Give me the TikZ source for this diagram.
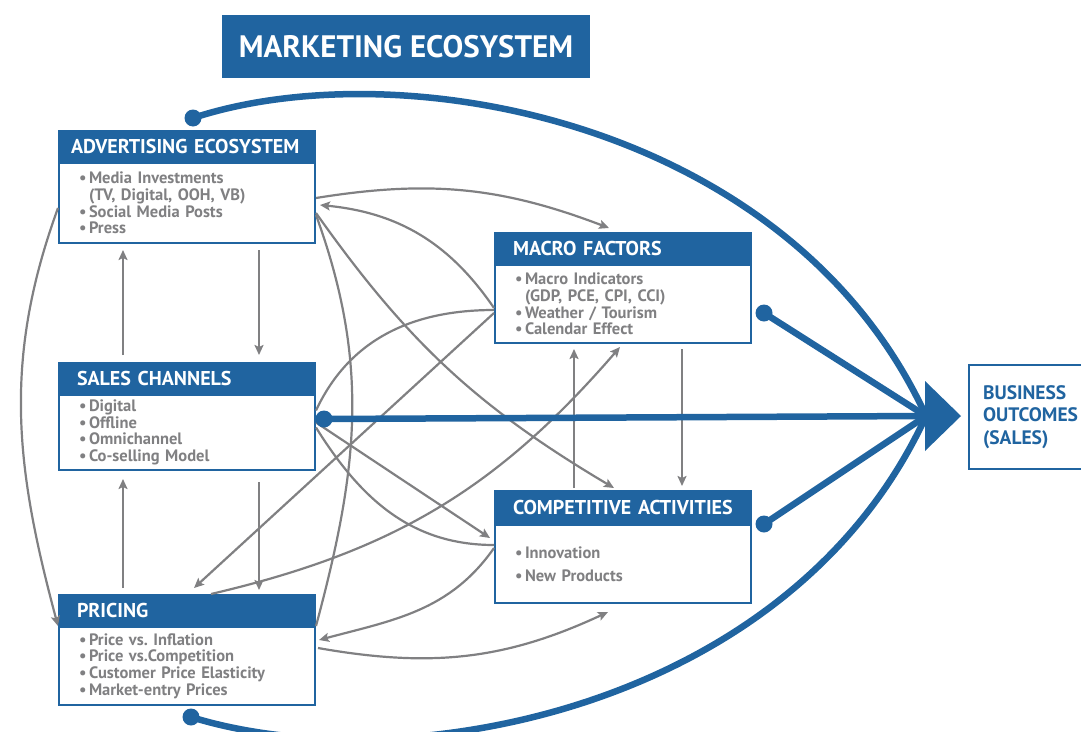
\documentclass[tikz,border=0pt]{standalone}
\usepackage{fontspec}
\setmainfont{PT Sans}
\usetikzlibrary{positioning,arrows.meta}
\definecolor{mblue}{RGB}{32,100,160}
\definecolor{mgray}{RGB}{128,128,130}
\newcommand\itm{\makebox[10pt][l]{\textbullet}}
\newcommand\cnt{\hspace*{10pt}}
\tikzset{
  hdr/.style={fill=mblue, draw=mblue, line width=2pt, text=white, anchor=north west,
    font=\fontsize{20}{22}\selectfont\bfseries, minimum height=30pt,
    inner xsep=18pt, inner ysep=0pt, text width=220pt, align=left},
  body/.style={draw=mblue, line width=2pt, fill=white, text=mgray,
    font=\fontsize{16.5}{16.7}\selectfont\bfseries, inner xsep=20pt, text width=216pt, align=left},
  link/.style={draw=mgray, line width=2.2pt},
  bline/.style={draw=mblue, line width=6.5pt},
  bdot/.style={circle, fill=mblue, inner sep=0pt, minimum size=17pt},
}
\begin{document}
\begin{tikzpicture}[x=1pt, y=-1pt, >={Stealth[length=10pt,width=9pt,inset=2pt]}]
\useasboundingbox (0,0) rectangle (1081,731);

\node[fill=mblue, text=white, font=\fontsize{31}{33}\selectfont\bfseries,
  minimum width=368pt, minimum height=63pt] (ttl) at (406,46.5) {MARKETING ECOSYSTEM};

\node[hdr, inner xsep=12pt, text width=232pt] (adv) at (58,130) {ADVERTISING ECOSYSTEM};
\node[body, below=0pt of adv, minimum height=80pt] (advb) {\itm Media Investments\\ \cnt (TV, Digital, OOH, VB)\\ \itm Social Media Posts\\ \itm Press};
\node[hdr] (sal) at (58,362) {SALES CHANNELS};
\node[body, below=0pt of sal, minimum height=75pt] (salb) {\itm Digital\\ \itm Offline\\ \itm Omnichannel\\ \itm Co-selling Model};
\node[hdr] (prc) at (58,594) {PRICING};
\node[body, below=0pt of prc, minimum height=78pt] (prcb) {\itm Price vs.\ Inflation\\ \itm Price vs.Competition\\ \itm Customer Price Elasticity\\ \itm Market-entry Prices};
\node[hdr] (mac) at (494,232) {MACRO FACTORS};
\node[body, below=0pt of mac, minimum height=78pt] (macb) {\itm Macro Indicators\\ \cnt (GDP, PCE, CPI, CCI)\\ \itm Weather / Tourism\\ \itm Calendar Effect};
\node[hdr, minimum height=32pt] (cmp) at (494,490) {COMPETITIVE ACTIVITIES};
\node[body, below=0pt of cmp, minimum height=78pt] (cmpb) {\itm Innovation\\[6pt] \itm New Products};

\node[draw=mblue, line width=2pt, text=mblue, anchor=north west, minimum width=130pt,
  minimum height=104pt, inner xsep=14pt, text width=110pt, align=left,
  font=\fontsize{19.5}{22.5}\selectfont\bfseries] (bus) at (968,364) {BUSINESS\\OUTCOMES\\(SALES)};

% gray influences
\draw[link,->] ([yshift=5pt]advb.east) to[bend left=15] ([xshift=-14pt,yshift=4pt]mac.north);
\draw[link,->] ([yshift=-4pt]macb.west) to[bend right=25] ([xshift=4pt,yshift=-2pt]advb.east);
\draw[link,->] ([yshift=-10pt]advb.east) to[bend right=12] ([xshift=-9pt,yshift=2pt]cmp.north);
\draw[link] ([yshift=-12pt]advb.east) to[out=-70,in=75] (prc.south east);
\draw[link,->] ([yshift=-5pt]advb.west) to[out=250,in=105] (prc.south west);
\draw[link,->] ([xshift=72pt,yshift=-6pt]advb.south) -- ([xshift=72pt,yshift=7pt]sal.north);
\draw[link,->] ([xshift=-64pt,yshift=7pt]sal.north) -- ([xshift=-64pt,yshift=-6pt]advb.south);
\draw[link,->] ([xshift=72pt,yshift=-11pt]salb.south) -- ([xshift=72pt,yshift=4pt]prc.north);
\draw[link,->] ([xshift=-64pt,yshift=6pt]prc.north) -- ([xshift=-64pt,yshift=-8pt]salb.south);
\draw[link] ([yshift=-6pt]macb.west) to[out=180,in=65] ([yshift=22pt]salb.east);
\draw[link,->] ([yshift=-9pt]macb.west) -- ([xshift=7pt,yshift=6pt]prc.north);
\draw[link,->] ([xshift=24pt]prc.north) to[bend right=18] ([xshift=-3pt,yshift=-3pt]macb.south);
\draw[link,->] ([xshift=-49pt,yshift=2pt]cmp.north) -- ([xshift=-49pt,yshift=-5pt]macb.south);
\draw[link,->] ([xshift=59pt,yshift=-5pt]macb.south) -- ([xshift=59pt,yshift=4pt]cmp.north);
\draw[link,->] ([yshift=10pt]salb.east) -- ([xshift=-4pt,yshift=26pt]cmpb.west);
\draw[link] ([yshift=5pt]salb.east) to[out=-58,in=180] ([yshift=19pt]cmpb.west);
\draw[link,->] ([yshift=16pt]cmpb.west) to[out=235,in=15] ([xshift=3pt,yshift=26pt]prcb.east);
\draw[link,->] ([xshift=2pt,yshift=18pt]prcb.east) to[out=-10,in=205] ([xshift=-15pt,yshift=-8pt]cmpb.south);

% drivers of sales
\coordinate (hub) at (926,416);
\node[bdot] (advdot) at ([xshift=6pt,yshift=12pt]adv.north) {};
\node[bdot] (prcdot) at ([xshift=4pt,yshift=-11pt]prcb.south) {};
\node[bdot] (saldot) at ([xshift=8pt,yshift=13.5pt]salb.east) {};
\node[bdot] (macdot) at ([xshift=12pt,yshift=-9pt]macb.east) {};
\node[bdot] (cmpdot) at ([xshift=12pt]cmpb.north east) {};
\draw[bline] (advdot.center) .. controls (400,50) and (790,120) .. (hub);
\draw[bline] (prcdot.center) .. controls (400,782) and (790,712) .. (hub);
\draw[bline] (saldot.center) -- (hub);
\draw[bline] (macdot.center) -- (hub);
\draw[bline] (cmpdot.center) -- (hub);
\fill[mblue] ([xshift=35pt]hub) -- ([xshift=-1pt,yshift=35pt]hub) -- ([xshift=-1pt,yshift=-35pt]hub) -- cycle;
\end{tikzpicture}
\end{document}
